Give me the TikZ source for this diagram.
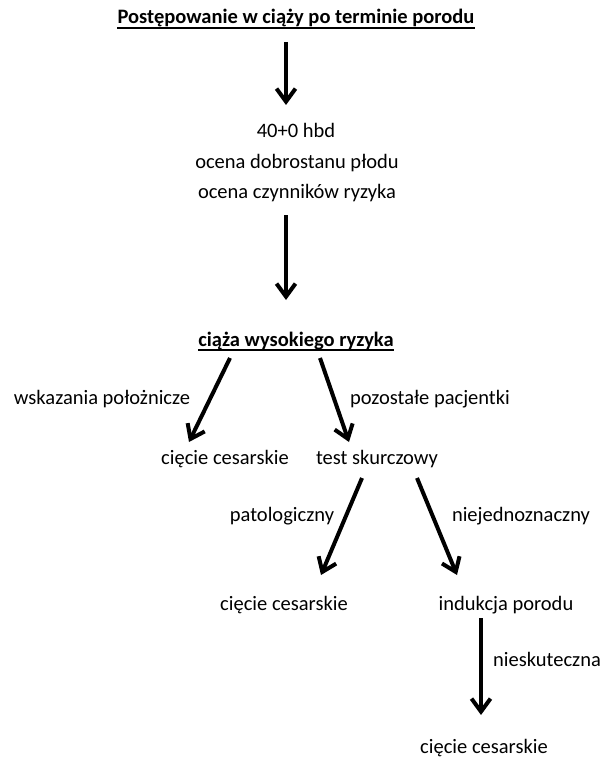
\documentclass[tikz,border=0pt]{standalone}
\usepackage{fontspec}
\setmainfont{Carlito}
\usetikzlibrary{arrows.meta}
\tikzset{
  txt/.style={anchor=base, inner sep=0pt, font=\fontsize{20.5}{24}\selectfont},
  head/.style={txt, font=\fontsize{20.5}{24}\selectfont\bfseries},
  ul/.style={line width=1.4pt},
  arr/.style={line width=4pt, -{Straight Barb[length=13pt, width=19pt, line width=4pt]}}
}
\begin{document}
\begin{tikzpicture}[x=1pt, y=-1pt]
\useasboundingbox (0,0) rectangle (605,757);
\node[head] (title) at (296,24) {Postępowanie w ciąży po terminie porodu};
\node[txt] (n40) at (296,138) {40+0 hbd};
\node[txt] (ocd) at (297,168) {ocena dobrostanu płodu};
\node[txt] (ocr) at (297,198) {ocena czynników ryzyka};
\node[head] (high) at (296,346) {ciąża wysokiego ryzyka};
\node[txt] (lwsk) at (102,404) {wskazania położnicze};
\node[txt] (lpoz) at (430,404) {pozostałe pacjentki};
\node[txt] (cc1) at (225,464) {cięcie cesarskie};
\node[txt] (test) at (377,464) {test skurczowy};
\node[txt] (lpat) at (282,521) {patologiczny};
\node[txt] (lnie) at (521,521) {niejednoznaczny};
\node[txt] (cc2) at (284,610) {cięcie cesarskie};
\node[txt] (ind) at (506,610) {indukcja porodu};
\node[txt] (lnsk) at (547,666) {nieskuteczna};
\node[txt] (cc3) at (484,753) {cięcie cesarskie};

\draw[ul] ([yshift=-0.5pt]title.south west) -- ([yshift=-0.5pt]title.south east);
\draw[ul] ([yshift=-0.5pt]high.south west) -- ([yshift=-0.5pt]high.south east);

\coordinate (a1s) at (286,42);  \coordinate (a1e) at (286,105);
\coordinate (a2s) at (286,215); \coordinate (a2e) at (286,300);
\coordinate (a3s) at (230,358); \coordinate (a3e) at (189,442);
\coordinate (a4s) at (320,358); \coordinate (a4e) at (349,442);
\coordinate (a5s) at (362,478); \coordinate (a5e) at (321,575);
\coordinate (a6s) at (417,478); \coordinate (a6e) at (457,575);
\coordinate (a7s) at (481,618); \coordinate (a7e) at (481,715);

\draw[arr] (a1s) -- (a1e);
\draw[arr] (a2s) -- (a2e);
\draw[arr] (a3s) -- (a3e);
\draw[arr] (a4s) -- (a4e);
\draw[arr] (a5s) -- (a5e);
\draw[arr] (a6s) -- (a6e);
\draw[arr] (a7s) -- (a7e);
\end{tikzpicture}
\end{document}
